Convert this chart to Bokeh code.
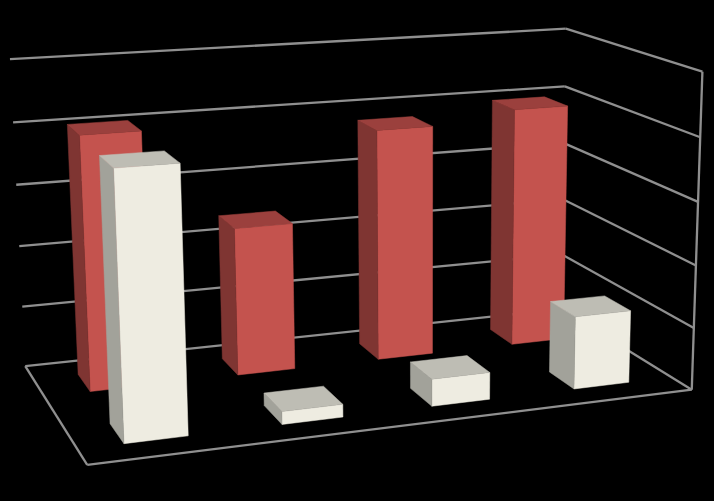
import numpy as np
from bokeh.plotting import figure
from bokeh.embed import file_html
from bokeh.resources import INLINE
from bokeh.models import Range1d

# ---- data ----
categories = ["Category 1", "Category 2", "Category 3", "Category 4"]
red_values = [4.05, 2.4, 3.8, 3.98]
white_values = [4.05, 0.2, 0.43, 1.17]
value_ticks = [0, 1, 2, 3, 4, 5]
value_max = 5

# ---- style ----
RED = dict(front="#C4534E", side="#7F3532", top="#9B403D")
WHITE = dict(front="#EEECE1", side="#A2A29A", top="#BEBDB4")
GRID = "#8F8F8F"

# ---- camera: box corners (x, depth, value fraction) -> page pixels ----
anchors = [((0, 0, 0), (87, 466)), ((1, 0, 0), (689, 388)), ((0, 1, 0), (24, 364)),
           ((1, 1, 0), (563, 310)), ((0, 1, 1), (10, 59)), ((1, 1, 1), (563, 28)),
           ((1, 0, 1), (704, 71))]
A, b = [], []
for (X, Y, Z), (u, v) in anchors:
    A.append([X, Y, Z, 1, 0, 0, 0, 0, -u * X, -u * Y, -u * Z])
    b.append(u)
    A.append([0, 0, 0, 0, X, Y, Z, 1, -v * X, -v * Y, -v * Z])
    b.append(v)
sol = np.linalg.lstsq(np.array(A, float), np.array(b, float), rcond=None)[0]
P = np.append(sol, 1.0).reshape(3, 4)


def proj(x, d, val):
    h = P @ np.array([x, d, val / value_max, 1.0])
    return h[0] / h[2], h[1] / h[2]


W, H = 714, 501
p = figure(width=W, height=H, x_range=Range1d(0, W), y_range=Range1d(H, 0),
           output_backend="svg", toolbar_location=None, min_border=0,
           background_fill_color="black", border_fill_color="black", outline_line_color=None)
p.xaxis.visible = False
p.yaxis.visible = False
p.grid.visible = False


def seg(a, b):
    pa, pb = proj(*a), proj(*b)
    p.line([pa[0], pb[0]], [pa[1], pb[1]], line_color=GRID, line_width=2.3, line_alpha=1)


for t in value_ticks:
    seg((0, 1, t), (1, 1, t))
    seg((1, 1, t), (1, 0, t))
seg((0, 1, 0), (0, 0, 0))
seg((0, 0, 0), (1, 0, 0))
seg((1, 0, 0), (1, 0, value_max))

bar_w = 0.1
red_depth = (0.66, 0.85)
white_depth = (0.14, 0.33)
white_shift = -0.004


def bar(i, val, depth, col, shift=0.0):
    xc = (i + 0.5) / len(categories) + shift
    x0, x1 = xc - bar_w / 2, xc + bar_w / 2
    d0, d1 = depth
    faces = [
        ([(x0, d0, 0), (x1, d0, 0), (x1, d0, val), (x0, d0, val)], col["front"]),
        ([(x0, d1, 0), (x0, d0, 0), (x0, d0, val), (x0, d1, val)], col["side"]),
        ([(x0, d0, val), (x1, d0, val), (x1, d1, val), (x0, d1, val)], col["top"]),
    ]
    for pts, c in faces:
        q = [proj(*pt) for pt in pts]
        p.patch([a for a, _ in q], [b for _, b in q], fill_color=c, line_color=c, line_width=0.5)


for i, v in enumerate(red_values):
    bar(i, v, red_depth, RED)
for i, v in enumerate(white_values):
    bar(i, v, white_depth, WHITE, white_shift)

html = file_html(p, INLINE)
html = html.replace("<head>", "<head><style>html,body{background:#000}</style>", 1)
open("out.html", "w").write(html)
